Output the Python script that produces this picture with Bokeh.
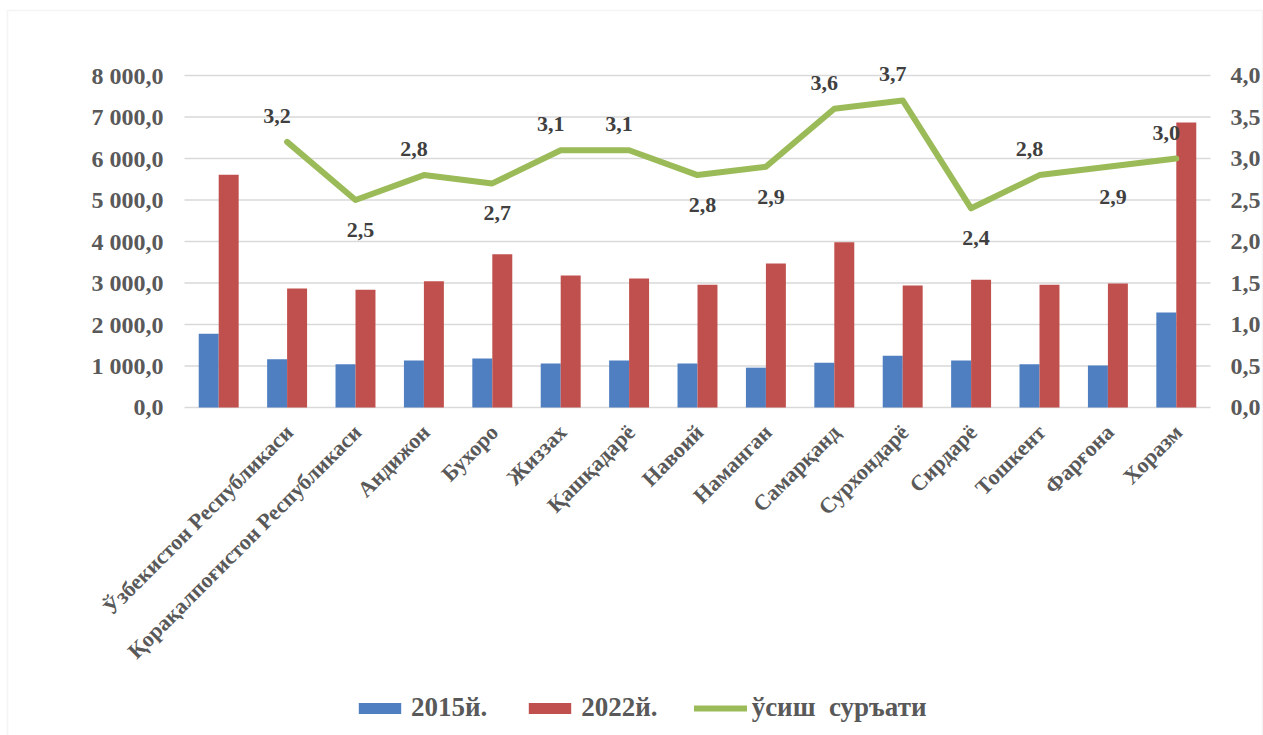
import math
from bokeh.plotting import figure
from bokeh.models import (Range1d, Legend, LegendItem, ColumnDataSource, BoxAnnotation)
from bokeh.core.properties import value
from bokeh.embed import file_html
from bokeh.resources import INLINE

# ---------------- data ----------------
regions = [" ", "Ўзбекистон Республикаси", "Қорақалпоғистон Республикаси", "Андижон",
           "Бухоро", "Жиззах", "Қашқадарё", "Навоий", "Наманган", "Самарқанд",
           "Сурхондарё", "Сирдарё", "Тошкент", "Фарғона", "Хоразм"]
v2015 = [1780, 1160, 1040, 1130, 1180, 1060, 1130, 1060, 960, 1080, 1250, 1130, 1040, 1010, 2290]
v2022 = [5610, 2870, 2840, 3040, 3690, 3180, 3110, 2960, 3470, 3980, 2940, 3080, 2960, 2990, 6870]
growth = [float("nan"), 3.2, 2.5, 2.8, 2.7, 3.1, 3.1, 2.8, 2.9, 3.6, 3.7, 2.4, 2.8, 2.9, 3.0]
left_ticks = [0, 1000, 2000, 3000, 4000, 5000, 6000, 7000, 8000]
right_ticks = [0.0, 0.5, 1.0, 1.5, 2.0, 2.5, 3.0, 3.5, 4.0]
series_names = ["2015й.", "2022й.", "ўсиш  суръати"]

# label placement for growth labels (style)
placement = ["", "above", "below", "above", "below", "above", "above", "below",
             "below", "above", "above", "below", "above", "below", "above"]

FONT = "Liberation Serif"
GREY = "#595959"
GRID = "#d9d9d9"

# ---------------- layout (screen px) ----------------
W, H = 1263, 735
PLOT_L, PLOT_R = 184, 1210      # plot-area pixel columns
Y0_PX, YMAX_PX = 407, 75        # pixel rows of value 0 and of the top tick
N = len(regions)
cat_px = (PLOT_R - PLOT_L) / N
px_per_l = (Y0_PX - YMAX_PX) / left_ticks[-1]
px_per_r = (Y0_PX - YMAX_PX) / right_ticks[-1]

def xdata(px):
    return -0.5 + (px - PLOT_L) / cat_px

def ydata(px):
    return (Y0_PX - px) / px_per_l

x_range = Range1d(xdata(0), xdata(W))
l_range = Range1d(ydata(H), ydata(0))
r_range = Range1d(-(H - Y0_PX) / px_per_r, Y0_PX / px_per_r)

idx = list(range(N))
xa_left = idx[0] - 0.5
xa_right = idx[-1] + 0.5

lbl = ["" if math.isnan(g) else f"{g:.1f}".replace(".", ",") for g in growth]
dx = [-10 if pl == "above" else 5 for pl in placement]
dy = [-26 if pl == "above" else 30 for pl in placement]

src = ColumnDataSource(dict(x=idx, region=regions, v2015=v2015, v2022=v2022,
                            growth=growth, lbl=lbl, dx=dx, dy=dy,
                            x15=[i - 0.146 for i in idx], x22=[i + 0.146 for i in idx]))

p = figure(width=W, height=H, x_range=x_range, y_range=l_range,
           output_backend="svg", toolbar_location=None,
           x_axis_location=None, y_axis_location=None,
           min_border=0)
p.outline_line_color = None
p.xgrid.grid_line_color = None
p.ygrid.grid_line_color = None
p.extra_y_ranges = {"rate": r_range}

# chart border
p.add_layout(BoxAnnotation(left=xdata(7), right=xdata(1262), top=ydata(10),
                           bottom=ydata(H + 6), fill_alpha=0,
                           line_color=GRID, line_width=1.5))

# horizontal grid lines
p.segment(x0=xa_left, x1=xa_right, y0=left_ticks, y1=left_ticks,
          line_color=GRID, line_width=1.6)

r1 = p.vbar(x="x15", top="v2015", width=0.292, source=src,
            fill_color="#4f7fc0", line_color=None)
r2 = p.vbar(x="x22", top="v2022", width=0.292, source=src,
            fill_color="#c0504d", line_color=None)
r3 = p.line(x="x", y="growth", source=src, y_range_name="rate",
            line_color="#9bbb59", line_width=6, line_join="round", line_cap="round")
p.text(x="x", y="growth", text="lbl", x_offset="dx", y_offset="dy", source=src,
       y_range_name="rate", text_font=value(FONT), text_font_style="bold",
       text_font_size="22px", text_color="#404040", text_align="center",
       text_baseline="middle")

# category labels, rotated, under the baseline
p.text(x="x", y=0, text="region", source=src, angle=math.pi / 4,
       text_align="right", text_baseline="middle", x_offset=2, y_offset=21,
       text_font=value(FONT), text_font_style="bold", text_font_size="22px",
       text_color=GREY)

# left value-axis labels
p.text(x=xa_left, y=left_ticks,
       text=[f"{t:,.1f}".replace(",", " ").replace(".", ",") for t in left_ticks],
       x_offset=-21, text_align="right", text_baseline="middle",
       text_font=value(FONT), text_font_style="bold", text_font_size="24px",
       text_color=GREY)

# right value-axis labels
p.text(x=xa_right, y=right_ticks, y_range_name="rate",
       text=[f"{t:.1f}".replace(".", ",") for t in right_ticks],
       x_offset=20, text_align="left", text_baseline="middle",
       text_font=value(FONT), text_font_style="bold", text_font_size="24px",
       text_color=GREY)

legend = Legend(items=[LegendItem(label=series_names[0], renderers=[r1]),
                       LegendItem(label=series_names[1], renderers=[r2]),
                       LegendItem(label=series_names[2], renderers=[r3])],
                orientation="horizontal", location=(353, 12),
                glyph_width=53, glyph_height=14, label_standoff=5, spacing=36,
                label_text_font=FONT, label_text_font_style="bold",
                label_text_font_size="27px", label_text_color=GREY,
                border_line_color=None, background_fill_alpha=0,
                padding=0, margin=0)
p.add_layout(legend, "center")

open("out.html", "w").write(file_html(p, INLINE))
